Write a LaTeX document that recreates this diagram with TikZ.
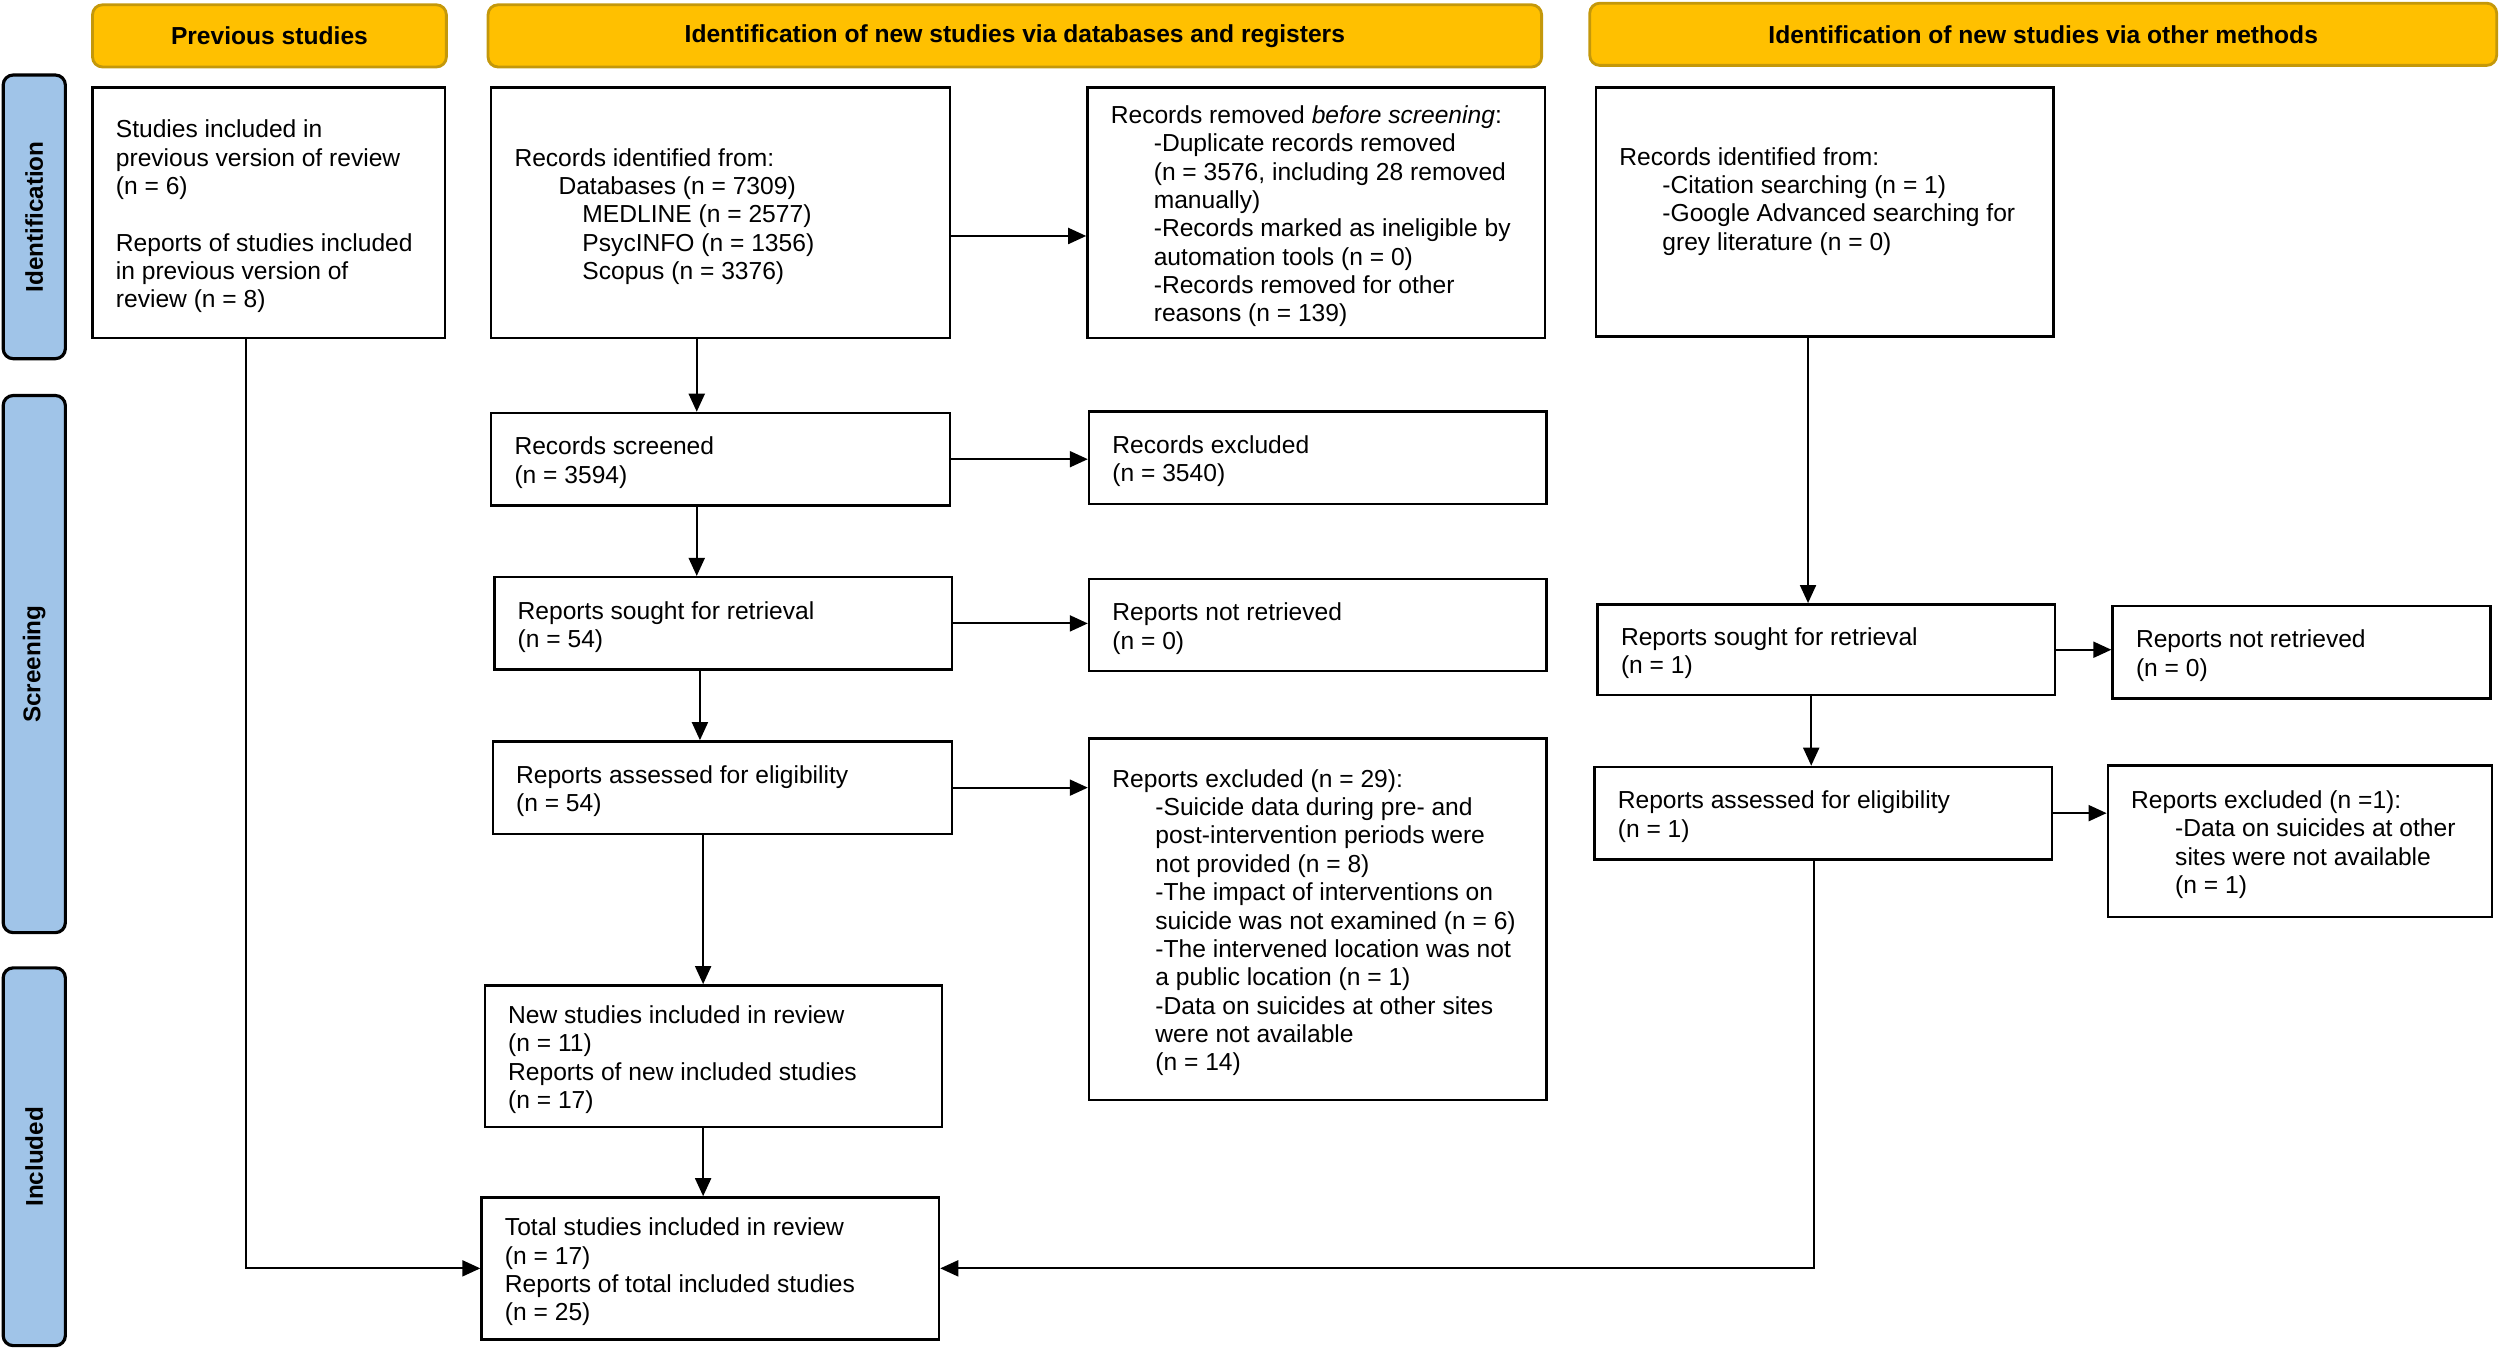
\documentclass[tikz,border=0pt]{standalone}
\usepackage{fontspec}
\setmainfont{Liberation Sans}
\usetikzlibrary{arrows.meta}
\definecolor{hdrfill}{RGB}{255,192,0}
\definecolor{hdrline}{RGB}{196,152,10}
\definecolor{sidefill}{RGB}{160,196,232}
\begin{document}
\begin{tikzpicture}[x=0.01594cm,y=-0.01594cm,
  box/.style={draw, line width=0.7pt, inner sep=0pt},
  txt/.style={anchor=west, align=left, inner sep=0pt, xshift=0.239cm, yshift=-0.035cm, font=\fontsize{7}{8.07}\selectfont},
  hdr/.style={draw=hdrline, fill=hdrfill, line width=0.8pt, rounded corners=0.1cm, inner sep=0pt, font=\bfseries\fontsize{7}{8}\selectfont},
  side/.style={draw, fill=sidefill, line width=0.9pt, rounded corners=0.1cm, rotate=90, inner sep=0pt, font=\bfseries\fontsize{6.9}{7}\selectfont},
  arr/.style={line width=0.55pt, -{Triangle[length=0.18cm,width=0.16cm]}}]
\useasboundingbox (0,0) rectangle (1568,846);

% headers
\node[hdr, minimum width=3.539cm, minimum height=0.622cm] (hprev) at (169,22.5) {Previous studies};
\node[hdr, minimum width=10.537cm, minimum height=0.622cm] (hdb) at (636.5,22.5) {Identification of new studies via databases and registers};
\node[hdr, minimum width=9.070cm, minimum height=0.622cm] (hother) at (1281.5,21.5) {Identification of new studies via other methods};

% side bars
\node[side, minimum width=2.837cm, minimum height=0.622cm] (sid) at (21.5,136) {Identification};
\node[side, minimum width=5.372cm, minimum height=0.622cm] (sscr) at (21.5,416.5) {Screening};
\node[side, minimum width=3.778cm, minimum height=0.622cm] (sinc) at (21.5,725.5) {Included};

% boxes
\node[box, minimum width=3.523cm, minimum height=2.503cm] (prev) at (168.5,133.5) {};
\node[txt] (tprev) at (prev.west) {Studies included in\\previous version of review\\(n = 6)\\[8.07pt]Reports of studies included\\in previous version of\\review (n = 8)};

\node[box, minimum width=4.591cm, minimum height=2.503cm] (recid) at (452,133.5) {};
\node[txt] (trecid) at (recid.west) {Records identified from:\\\hspace*{0.44cm}Databases (n = 7309)\\\hspace*{0.68cm}MEDLINE (n = 2577)\\\hspace*{0.68cm}PsycINFO (n = 1356)\\\hspace*{0.68cm}Scopus (n = 3376)};

\node[box, minimum width=4.575cm, minimum height=2.503cm] (removed) at (825.5,133.5) {};
\node[txt] (tremoved) at (removed.west) {Records removed \textit{before screening}:\\\hspace*{0.43cm}-Duplicate records removed\\\hspace*{0.43cm}(n = 3576, including 28 removed\\\hspace*{0.43cm}manually)\\\hspace*{0.43cm}-Records marked as ineligible by\\\hspace*{0.43cm}automation tools (n = 0)\\\hspace*{0.43cm}-Records removed for other\\\hspace*{0.43cm}reasons (n = 139)};

\node[box, minimum width=4.575cm, minimum height=2.487cm] (otherid) at (1144.5,133) {};
\node[txt, yshift=0.143cm] (totherid) at (otherid.west) {Records identified from:\\\hspace*{0.43cm}-Citation searching (n = 1)\\\hspace*{0.43cm}-Google Advanced searching for\\\hspace*{0.43cm}grey literature (n = 0)};

\node[box, minimum width=4.591cm, minimum height=0.925cm] (screened) at (452,288) {};
\node[txt] (tscreened) at (screened.west) {Records screened\\(n = 3594)};

\node[box, minimum width=4.575cm, minimum height=0.925cm] (excluded) at (826.5,287) {};
\node[txt] (texcluded) at (excluded.west) {Records excluded\\(n = 3540)};

\node[box, minimum width=4.575cm, minimum height=0.925cm] (sought) at (453.5,391) {};
\node[txt] (tsought) at (sought.west) {Reports sought for retrieval\\(n = 54)};

\node[box, minimum width=4.575cm, minimum height=0.925cm] (notret) at (826.5,392) {};
\node[txt] (tnotret) at (notret.west) {Reports not retrieved\\(n = 0)};

\node[box, minimum width=4.591cm, minimum height=0.925cm] (assessed) at (453,494) {};
\node[txt] (tassessed) at (assessed.west) {Reports assessed for eligibility\\(n = 54)};

\node[box, minimum width=4.575cm, minimum height=3.618cm] (repexcl) at (826.5,576.5) {};
\node[txt] (trepexcl) at (repexcl.west) {Reports excluded (n = 29):\\\hspace*{0.43cm}-Suicide data during pre- and\\\hspace*{0.43cm}post-intervention periods were\\\hspace*{0.43cm}not provided (n = 8)\\\hspace*{0.43cm}-The impact of interventions on\\\hspace*{0.43cm}suicide was not examined (n = 6)\\\hspace*{0.43cm}-The intervened location was not\\\hspace*{0.43cm}a public location (n = 1)\\\hspace*{0.43cm}-Data on suicides at other sites\\\hspace*{0.43cm}were not available\\\hspace*{0.43cm}(n = 14)};

\node[box, minimum width=4.575cm, minimum height=1.419cm] (newincl) at (447.5,662.5) {};
\node[txt] (tnewincl) at (newincl.west) {New studies included in review\\(n = 11)\\Reports of new included studies\\(n = 17)};

\node[box, minimum width=4.575cm, minimum height=1.419cm] (total) at (445.5,795.5) {};
\node[txt] (ttotal) at (total.west) {Total studies included in review\\(n = 17)\\Reports of total included studies\\(n = 25)};

\node[box, minimum width=4.575cm, minimum height=0.909cm] (osought) at (1145.5,407.5) {};
\node[txt] (tosought) at (osought.west) {Reports sought for retrieval\\(n = 1)};

\node[box, minimum width=3.778cm, minimum height=0.925cm] (onotret) at (1443.5,409) {};
\node[txt] (tonotret) at (onotret.west) {Reports not retrieved\\(n = 0)};

\node[box, minimum width=4.575cm, minimum height=0.925cm] (oassessed) at (1143.5,510) {};
\node[txt] (toassessed) at (oassessed.west) {Reports assessed for eligibility\\(n = 1)};

\node[box, minimum width=3.842cm, minimum height=1.514cm] (oexcl) at (1442.5,527.5) {};
\node[txt] (toexcl) at (oexcl.west) {Reports excluded (n =1):\\\hspace*{0.44cm}-Data on suicides at other\\\hspace*{0.44cm}sites were not available\\\hspace*{0.44cm}(n = 1)};

% column / row helpers
\coordinate (c154) at (154,0);
\coordinate (c437) at (437,0);
\coordinate (c439) at (439,0);
\coordinate (c441) at (441,0);
\coordinate (c1134) at (1134,0);
\coordinate (c1136) at (1136,0);
\coordinate (c1138) at (1138,0);
\coordinate (r148) at (0,148);

% connectors
\draw[arr] (prev.south -| c154) |- (total.west);
\draw[arr] (recid.south -| c437) -- (screened.north -| c437);
\draw[arr] (recid.east |- r148) -- (removed.west |- r148);
\draw[arr] (screened.east) -- (screened.east -| excluded.west);
\draw[arr] (screened.south -| c437) -- (sought.north -| c437);
\draw[arr] (sought.east) -- (sought.east -| notret.west);
\draw[arr] (sought.south -| c439) -- (assessed.north -| c439);
\draw[arr] (assessed.east) -- (assessed.east -| repexcl.west);
\draw[arr] (assessed.south -| c441) -- (newincl.north -| c441);
\draw[arr] (newincl.south -| c441) -- (total.north -| c441);
\draw[arr] (otherid.south -| c1134) -- (osought.north -| c1134);
\draw[arr] (osought.east) -- (osought.east -| onotret.west);
\draw[arr] (osought.south -| c1136) -- (oassessed.north -| c1136);
\draw[arr] (oassessed.east) -- (oassessed.east -| oexcl.west);
\draw[arr] (oassessed.south -| c1138) |- (total.east);
\end{tikzpicture}
\end{document}
